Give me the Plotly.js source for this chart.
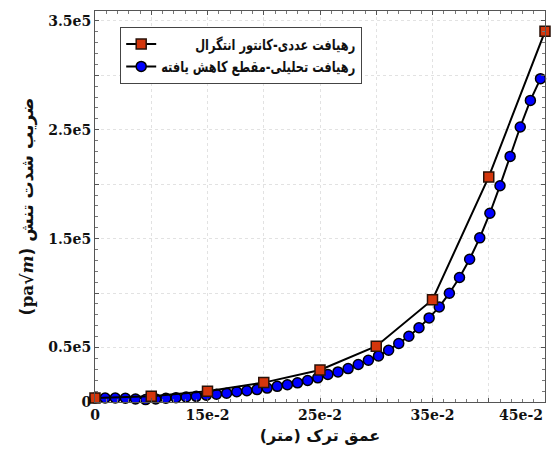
<!DOCTYPE html>
<html>
<head>
<meta charset="utf-8">
<script src="https://cdn.plot.ly/plotly-3.0.1.min.js"></script>
<style>html,body{margin:0;padding:0;background:#fff;}</style>
</head>
<body>
<div id="chart" style="width:552px;height:457px;"></div>
<script>
// Numerical approach (contour integral) - crack depth (m)
const numX = [0.05, 0.10, 0.15, 0.20, 0.25, 0.30, 0.35, 0.40, 0.45];
const numY = [3700, 5200, 9800, 17800, 29400, 51200, 93900, 206700, 340300];

// Analytical approach (reduced section)
const anaX = [0.05, 0.059, 0.068, 0.077, 0.086, 0.095, 0.104, 0.113, 0.122, 0.131,
              0.14, 0.149, 0.158, 0.167, 0.176, 0.185, 0.194, 0.203, 0.212, 0.221,
              0.23, 0.239, 0.248, 0.257, 0.266, 0.275, 0.284, 0.293, 0.302, 0.311,
              0.32, 0.329, 0.338, 0.347, 0.356, 0.365, 0.374, 0.383, 0.392, 0.401,
              0.41, 0.419, 0.428, 0.437, 0.446];
const anaY = [3700, 3700, 3700, 3400, 2800, 2200, 2800, 3400, 4000, 4600,
              5200, 6200, 7100, 8000, 9400, 10300, 11400, 12800, 14400, 15800,
              17600, 19700, 22200, 25200, 27600, 30700, 34400, 38300, 42300, 47500,
              53700, 60400, 68200, 77200, 87300, 99900, 114300, 131100, 150700, 173300,
              198600, 225500, 252500, 276900, 296900];

const numName = 'رهیافت عددی-کانتور انتگرال';
const anaName = 'رهیافت تحلیلی-مقطع کاهش یافته';

const xTickVals = [0.05, 0.10, 0.15, 0.20, 0.25, 0.30, 0.35, 0.40, 0.45];
const xTickText = ['0', '', '15e-2', '', '25e-2', '', '35e-2', '', ''];
const xLastTick = 0.45;
const xLastText = '45e-2';
const yTickVals = [0, 50000, 100000, 150000, 200000, 250000, 300000, 350000];
const yTickText = ['0', '0.5e5', '', '1.5e5', '', '2.5e5', '', '3.5e5'];

const xTitle = 'عمق ترک (متر)';
const yTitle = '(<span style="font-family:DejaVu Serif">pa√<i>m</i></span>) ضریب شدت تنش';

const tickFont = {family: 'DejaVu Serif', size: 14, color: '#111', weight: 700};
const LEGEND_TEXT_WIDTH = 194;

const traces = [
  {
    x: anaX, y: anaY, name: anaName, type: 'scatter', mode: 'lines+markers',
    line: {color: '#000', width: 2},
    marker: {symbol: 'circle', size: 10, color: '#0000ff', line: {color: '#000', width: 1.5}},
    legendrank: 2, cliponaxis: false
  },
  {
    x: numX, y: numY, name: numName, type: 'scatter', mode: 'lines+markers',
    line: {color: '#000', width: 2},
    marker: {symbol: 'square', size: 10, color: '#d4360c', line: {color: '#2a1208', width: 1.5}},
    legendrank: 1, cliponaxis: false
  }
];

const axisCommon = {
  showline: true, linecolor: '#555', linewidth: 1, mirror: 'allticks',
  ticks: 'inside', ticklen: 4, tickcolor: '#555', tickwidth: 1,
  showgrid: true, gridcolor: '#e2e2e2', gridwidth: 1, griddash: 'dot',
  zeroline: false, tickfont: tickFont, automargin: false
};

const layout = {
  width: 552, height: 457,
  margin: {l: 95, r: 7, t: 11, b: 55},
  paper_bgcolor: '#fff', plot_bgcolor: '#fff',
  showlegend: true,
  legend: {
    x: 0.056, y: 0.96, xanchor: 'left', yanchor: 'top',
    bgcolor: '#fff', bordercolor: '#444', borderwidth: 1, itemwidth: 30,
    tracegroupgap: 4,
    font: {family: 'DejaVu Sans', size: 15, color: '#111', weight: 700}
  },
  xaxis: Object.assign({}, axisCommon, {
    range: [0.05, 0.45],
    tickmode: 'array', tickvals: xTickVals, ticktext: xTickText,
    minor: {tickmode: 'linear', tick0: 0.05, dtick: 0.01, ticks: 'inside', ticklen: 3, tickcolor: '#777', showgrid: false},
    title: {text: xTitle, font: {family: 'DejaVu Sans', size: 16, color: '#111', weight: 700}, standoff: 8}
  }),
  yaxis: Object.assign({}, axisCommon, {
    range: [0, 359000],
    tickmode: 'array', tickvals: yTickVals, ticktext: yTickText,
    minor: {tickmode: 'linear', tick0: 0, dtick: 10000, ticks: 'inside', ticklen: 3, tickcolor: '#777', showgrid: false},
    title: {text: yTitle, font: {family: 'DejaVu Sans', size: 17, color: '#111', weight: 700}, standoff: 10}
  }),
  annotations: [{
    text: xLastText, x: xLastTick, xref: 'x', y: 0, yref: 'paper',
    xanchor: 'right', yanchor: 'top', yshift: -3, showarrow: false,
    font: tickFont
  }]
};

Plotly.newPlot('chart', traces, layout, {displayModeBar: false, staticPlot: true}).then(function () {
  // condense and right-align the RTL legend texts, then shrink the legend box to fit
  const texts = Array.from(document.querySelectorAll('.legendtext'));
  let maxW = 0;
  const widths = texts.map(function (t) { const w = t.getComputedTextLength(); maxW = Math.max(maxW, w); return w; });
  if (!maxW) return;
  const f = Math.min(1, LEGEND_TEXT_WIDTH / maxW);
  texts.forEach(function (t, i) {
    const x0 = parseFloat(t.getAttribute('x')) || 0;
    t.setAttribute('textLength', (widths[i] * f).toFixed(1));
    t.setAttribute('lengthAdjust', 'spacingAndGlyphs');
    t.setAttribute('text-anchor', 'end');
    t.style.textAnchor = 'end';
    t.setAttribute('x', x0 + maxW * f);
  });
  const shrink = maxW * (1 - f);
  document.querySelectorAll('.legend rect.bg').forEach(function (r) {
    const w = parseFloat(r.getAttribute('width'));
    if (w) r.setAttribute('width', w - shrink);
  });
});
</script>
</body>
</html>
